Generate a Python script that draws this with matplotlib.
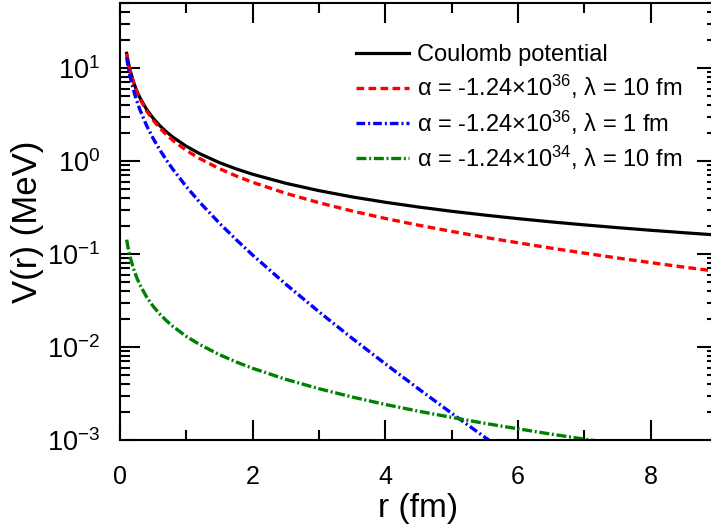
import matplotlib
matplotlib.use("Agg")
import matplotlib.pyplot as plt
from matplotlib.ticker import MultipleLocator, LogLocator, NullFormatter

plt.rcParams['font.family'] = ['Liberation Sans', 'DejaVu Sans']
plt.rcParams['mathtext.fontset'] = 'custom'
plt.rcParams['mathtext.rm'] = 'Liberation Sans'
plt.rcParams['mathtext.it'] = 'Liberation Sans:italic'
plt.rcParams['mathtext.bf'] = 'Liberation Sans:bold'

# ---- data ----
r = [0.1, 0.12, 0.15, 0.2, 0.25, 0.3, 0.4, 0.5, 0.6, 0.7, 0.8, 1.0, 1.2, 1.5, 1.75,
     2.0, 2.5, 3.0, 3.5, 4.0, 4.5, 5.0, 5.5, 6.0, 6.5, 7.0, 7.5, 8.0, 8.5, 9.0]
v_coulomb = [14.4, 12.0, 9.6, 7.2, 5.76, 4.8, 3.6, 2.88, 2.4, 2.057, 1.8, 1.44, 1.2, 0.96, 0.823,
             0.72, 0.576, 0.48, 0.411, 0.36, 0.32, 0.288, 0.262, 0.24, 0.2215, 0.2057, 0.192, 0.18, 0.1694, 0.16]
v_a36_l10 = [14.26, 11.86, 9.46, 7.06, 5.62, 4.66, 3.46, 2.74, 2.26, 1.918, 1.66, 1.30, 1.064, 0.826, 0.691,
             0.590, 0.449, 0.356, 0.290, 0.241, 0.204, 0.175, 0.151, 0.132, 0.1156, 0.1022, 0.0906, 0.0808, 0.0723, 0.0651]
r_a36_l1 = [0.1, 0.12, 0.15, 0.2, 0.25, 0.3, 0.4, 0.5, 0.6, 0.7, 0.8, 1.0, 1.2, 1.5, 1.75,
            2.0, 2.5, 3.0, 3.5, 4.0, 4.5, 5.0, 5.5, 6.0]
v_a36_l1 = [13.03, 10.64, 8.26, 5.90, 4.49, 3.56, 2.41, 1.747, 1.317, 1.022, 0.809, 0.530, 0.361, 0.214, 0.143,
            0.0974, 0.0473, 0.0239, 0.0124, 0.00659, 0.00355, 0.00194, 0.00107, 0.000595]
v_a34_l10 = [0.1426, 0.1186, 0.0946, 0.0706, 0.0562, 0.0466, 0.0346, 0.0274, 0.0226, 0.01918, 0.0166, 0.0130, 0.01064, 0.00826, 0.00691,
             0.00590, 0.00449, 0.00356, 0.00290, 0.00241, 0.00204, 0.00175, 0.00151, 0.00132, 0.001156, 0.001022, 0.000906, 0.000808, 0.000723, 0.000651]

labels = ['Coulomb potential',
          r'α = -1.24×10$^{36}$, λ = 10 fm',
          r'α = -1.24×10$^{36}$, λ = 1 fm',
          r'α = -1.24×10$^{34}$, λ = 10 fm']

W, H = 711, 528
fig = plt.figure(figsize=(W / 100, H / 100), dpi=100)
ax = fig.add_axes([120 / W, 88 / H, 597 / W, 437 / H])

ax.plot(r, v_coulomb, color='black', lw=2.3, label=labels[0])
ax.plot(r, v_a36_l10, color='#ff0000', lw=2.4, linestyle=(0, (2.3, 1.3)), label=labels[1])
ax.plot(r_a36_l1, v_a36_l1, color='#0000ff', lw=2.4, linestyle=(0, (2.6, 0.9, 0.6, 0.9)), label=labels[2])
ax.plot(r, v_a34_l10, color='#008000', lw=2.4, linestyle=(0, (3.0, 0.8, 0.6, 0.8)), label=labels[3])

ax.set_yscale('log')
ax.set_xlim(0, 9)
ax.set_ylim(1e-3, 50)

ax.xaxis.set_major_locator(MultipleLocator(2))
ax.xaxis.set_minor_locator(MultipleLocator(1))
ax.yaxis.set_major_locator(LogLocator(base=10, numticks=20))
ax.yaxis.set_minor_locator(LogLocator(base=10, subs=range(2, 10), numticks=20))
ax.yaxis.set_minor_formatter(NullFormatter())

for s in ax.spines.values():
    s.set_linewidth(1.5)
ax.tick_params(which='both', direction='in', top=True, right=True, width=1.5)
ax.tick_params(which='major', length=14.5)
ax.tick_params(which='minor', length=7.5)
ax.tick_params(axis='x', which='major', labelsize=18, pad=18)
ax.tick_params(axis='y', which='major', labelsize=19.5, pad=14)

ax.set_xlabel('r (fm)', fontsize=24, labelpad=3)
ax.set_ylabel('V(r) (MeV)', fontsize=25)
ax.yaxis.set_label_coords(-0.128, 0.5)

leg = ax.legend(loc='upper left', bbox_to_anchor=(356 / W, 1 - 44 / H),
                bbox_transform=fig.transFigure, frameon=False, fontsize=17,
                handlelength=2.25, handletextpad=0.35, labelspacing=0.3,
                borderpad=0, borderaxespad=0)

fig.savefig('out.png', dpi=100)
